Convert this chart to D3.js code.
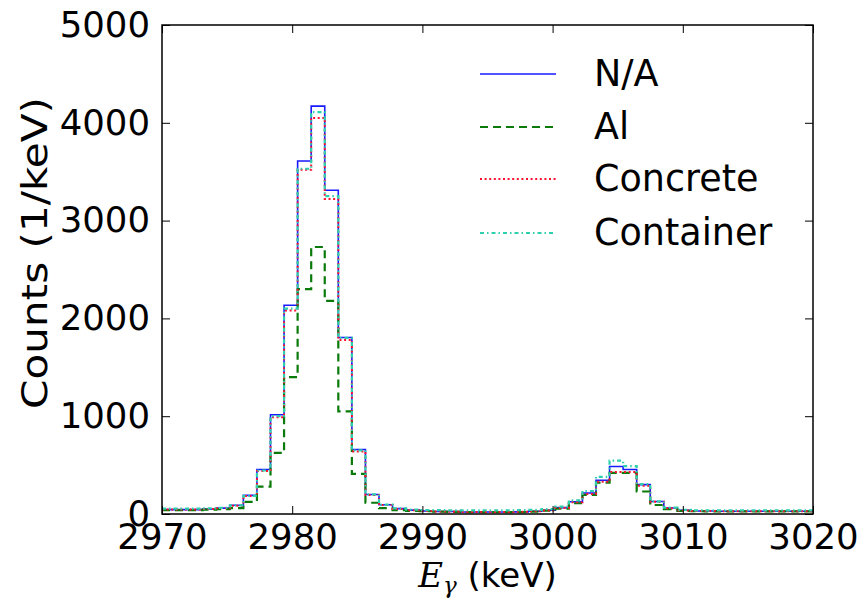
<!DOCTYPE html>
<html>
<head>
<meta charset="utf-8">
<script src="https://cdn.jsdelivr.net/npm/d3@7"></script>
<style>
  html, body { margin: 0; padding: 0; background: #fff; }
  svg { display: block; }
  text { font-family: "DejaVu Sans", sans-serif; fill: #000; }
</style>
</head>
<body>
<svg id="chart" width="861" height="598"></svg>
<script>
// Histogram range and binning (48 equal bins over 2970–3020 keV)
const energyRange = [2970, 3020];
const binCount = 48;

// Counts per keV in each bin, one array per shielding configuration
const countsNA = [45, 45, 45, 50, 60, 90, 190, 455, 1015, 2135, 3610, 4170,
  3310, 1805, 660, 200, 95, 55, 40, 30, 25, 25, 20, 20,
  20, 20, 22, 28, 38, 65, 125, 215, 345, 485, 455, 300,
  128, 62, 38, 30, 30, 28, 28, 28, 28, 28, 28, 28];
const countsAl = [40, 40, 40, 45, 50, 60, 125, 280, 625, 1400, 2300, 2730,
  2180, 1050, 410, 115, 60, 40, 32, 28, 25, 22, 20, 20,
  20, 20, 20, 25, 35, 55, 110, 195, 320, 420, 420, 230,
  92, 50, 32, 28, 26, 26, 26, 26, 26, 26, 26, 26];
const countsConcrete = [45, 45, 45, 50, 58, 85, 185, 440, 990, 2080, 3520, 4050,
  3220, 1780, 640, 195, 92, 52, 38, 30, 25, 24, 20, 20,
  20, 20, 22, 28, 36, 62, 120, 205, 330, 430, 430, 290,
  125, 60, 36, 30, 30, 28, 28, 28, 28, 28, 28, 28];
const countsContainer = [55, 55, 55, 58, 62, 88, 185, 445, 1000, 2100, 3530, 4110,
  3250, 1800, 650, 200, 95, 58, 45, 40, 40, 38, 38, 38,
  38, 38, 40, 42, 50, 75, 140, 235, 380, 545, 490, 305,
  130, 65, 42, 38, 38, 38, 38, 38, 38, 38, 38, 38];

const seriesNames = ["N/A", "Al", "Concrete", "Container"];
const xTicks = [2970, 2980, 2990, 3000, 3010, 3020];
const yTicks = [0, 1000, 2000, 3000, 4000, 5000];

const series = [
  { name: seriesNames[0], values: countsNA,        color: "#1a1aff", width: 1.6, dash: null },
  { name: seriesNames[1], values: countsAl,        color: "#0a7a0a", width: 2.2, dash: "8,5" },
  { name: seriesNames[2], values: countsConcrete,  color: "#ff1030", width: 2.0, dash: "2,2.6" },
  { name: seriesNames[3], values: countsContainer, color: "#2ccfae", width: 2.2, dash: "4,3,1.5,3" }
];

const svg = d3.select("#chart");
const plot = { left: 162, right: 813, top: 25, bottom: 514 };

const x = d3.scaleLinear().domain(energyRange).range([plot.left, plot.right]);
const y = d3.scaleLinear().domain([0, 5000]).range([plot.bottom, plot.top]);

const binWidth = (energyRange[1] - energyRange[0]) / binCount;
const edges = d3.range(binCount + 1).map(i => energyRange[0] + i * binWidth);

svg.append("clipPath").attr("id", "plotClip")
  .append("rect")
  .attr("x", plot.left).attr("y", plot.top)
  .attr("width", plot.right - plot.left).attr("height", plot.bottom - plot.top);

// Step outlines of each histogram
const stepLine = d3.line()
  .x(d => x(d[0]))
  .y(d => y(d[1]))
  .curve(d3.curveStepAfter);

const g = svg.append("g").attr("clip-path", "url(#plotClip)");
series.forEach(s => {
  const pts = s.values.map((v, i) => [edges[i], v]);
  pts.push([edges[binCount], s.values[binCount - 1]]);
  g.append("path")
    .attr("d", stepLine(pts))
    .attr("fill", "none")
    .attr("stroke", s.color)
    .attr("stroke-width", s.width)
    .attr("stroke-dasharray", s.dash);
});

// Axes: ticks pointing inwards on all four sides
const tickLen = 8;
const fontSize = 35.5;

const xAxisB = d3.axisBottom(x).tickValues(xTicks).tickSizeInner(-tickLen).tickSizeOuter(0).tickPadding(10).tickFormat(d3.format("d"));
const xAxisT = d3.axisTop(x).tickValues(xTicks).tickSizeInner(-tickLen).tickSizeOuter(0).tickFormat("");
const yAxisL = d3.axisLeft(y).tickValues(yTicks).tickSizeInner(-tickLen).tickSizeOuter(0).tickPadding(12).tickFormat(d3.format("d"));
const yAxisR = d3.axisRight(y).tickValues(yTicks).tickSizeInner(-tickLen).tickSizeOuter(0).tickFormat("");

function styleAxis(sel) {
  sel.select(".domain").remove();
  sel.selectAll(".tick line").attr("stroke", "#000").attr("stroke-width", 1);
  sel.selectAll(".tick text")
    .style("font-family", "'DejaVu Sans', sans-serif")
    .style("font-size", fontSize + "px")
    .attr("fill", "#000");
}

svg.append("g").attr("transform", `translate(0,${plot.bottom})`).call(xAxisB).call(styleAxis);
svg.append("g").attr("transform", `translate(0,${plot.top})`).call(xAxisT).call(styleAxis);
svg.append("g").attr("transform", `translate(${plot.left},0)`).call(yAxisL).call(styleAxis);
svg.append("g").attr("transform", `translate(${plot.right},0)`).call(yAxisR).call(styleAxis);

// Frame
svg.append("rect")
  .attr("x", plot.left).attr("y", plot.top)
  .attr("width", plot.right - plot.left).attr("height", plot.bottom - plot.top)
  .attr("fill", "none").attr("stroke", "#000").attr("stroke-width", 1.5);

// Axis titles
svg.append("text")
  .attr("transform", `translate(47,253) rotate(-90)`)
  .attr("text-anchor", "middle")
  .attr("textLength", 312)
  .attr("lengthAdjust", "spacingAndGlyphs")
  .style("font-size", "36px")
  .text("Counts (1/keV)");

const xl = svg.append("text")
  .attr("x", (plot.left + plot.right) / 2)
  .attr("y", 587)
  .attr("text-anchor", "middle")
  .style("font-size", "34px");
xl.append("tspan").style("font-style", "italic").style("font-family", "'DejaVu Serif', serif").text("E");
xl.append("tspan").attr("dy", 6).style("font-size", "23px").style("font-style", "italic").style("font-family", "'DejaVu Serif', serif").text("γ");
xl.append("tspan").attr("dy", -6).text(" (keV)");

// Legend
const legendY = [74, 127, 179, 233];
const leg = svg.append("g");
series.forEach((s, i) => {
  leg.append("line")
    .attr("x1", 480).attr("x2", 556)
    .attr("y1", legendY[i]).attr("y2", legendY[i])
    .attr("stroke", s.color)
    .attr("stroke-width", s.width)
    .attr("stroke-dasharray", s.dash);
  leg.append("text")
    .attr("x", 594).attr("y", legendY[i] + 12)
    .style("font-size", "36.5px")
    .text(s.name);
});
</script>
</body>
</html>
